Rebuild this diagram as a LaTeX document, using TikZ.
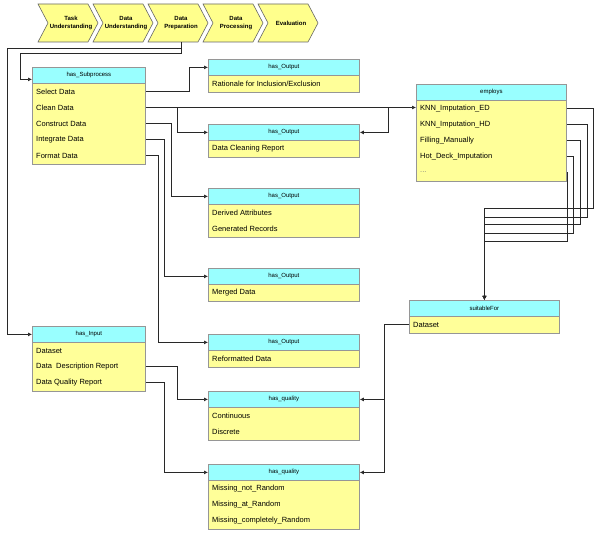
\documentclass[tikz,border=0pt]{standalone}
\usepackage{fontspec}
\setmainfont{Liberation Sans}
\usetikzlibrary{arrows.meta,calc}
\definecolor{hdr}{RGB}{153,255,255}
\definecolor{bod}{RGB}{255,255,153}
\definecolor{chevfill}{RGB}{255,255,140}
\definecolor{edge}{RGB}{150,150,150}
\definecolor{ln}{RGB}{40,40,40}
\tikzset{
 hdrbox/.style={draw=edge, fill=hdr, line width=0.8pt, minimum height=16, inner sep=0, font=\fontsize{6}{7}\selectfont},
 bodybox/.style={draw=edge, fill=bod, line width=0.8pt, inner sep=0},
 rowtxt/.style={anchor=west, inner sep=0, font=\fontsize{7.5}{9}\selectfont},
 chev/.style={draw=black!60, fill=chevfill, line width=0.6pt},
 chevtxt/.style={inner sep=0, minimum height=38, minimum width=40, align=center, font=\bfseries\fontsize{6}{7.5}\selectfont},
 conn/.style={draw=ln, line width=0.7pt},
 arr/.style={conn, -{Latex[length=4pt,width=4pt]}},
}
\newcommand{\clsbox}[7]{%
  \node[bodybox, minimum width=#4, minimum height=16*#7+1, anchor=north west] (#1-b) at (#2,#3+16) {};
  \node[hdrbox, minimum width=#4, anchor=north west] (#1-h) at (#2,#3) {#5};
  \foreach \rtxt [count=\k] in {#6} {\node[rowtxt] (#1-\k) at (#2+4,#3+24.5+16*\k-16) {\rtxt};}
}
\begin{document}
\begin{tikzpicture}[x=1pt,y=-1pt]
\fill[white] (0,0) rectangle (600,537);
\useasboundingbox (0,0) rectangle (600,537);
% chevrons
\foreach \x/\n/\txt in {38/c1/{Task\\Understanding}, 93/c2/{Data\\Understanding}, 148/c3/{Data\\Preparation}, 203/c4/{Data\\Processing}, 258/c5/{Evaluation}}{
  \draw[chev] (\x,4) -- (\x+50,4) -- (\x+60,23) -- (\x+50,42) -- (\x,42) -- (\x+10,23) -- cycle;
  \node[chevtxt] (\n) at (\x+33,23) {\txt};
}
% boxes
\clsbox{sub}{32}{67}{113}{has\_Subprocess}{Select Data, Clean Data, Construct Data, Integrate Data, Format Data}{5}
\clsbox{inp}{32}{326}{113}{has\_Input}{Dataset, Data\ \ Description Report, Data Quality Report}{3}
\clsbox{out1}{208}{59}{151}{has\_Output}{Rationale for Inclusion/Exclusion}{1}
\clsbox{out2}{208}{124}{151}{has\_Output}{Data Cleaning Report}{1}
\clsbox{out3}{208}{188}{151}{has\_Output}{Derived Attributes, Generated Records}{2}
\clsbox{out4}{208}{268}{151}{has\_Output}{Merged Data}{1}
\clsbox{out5}{208}{334}{151}{has\_Output}{Reformatted Data}{1}
\clsbox{hq1}{208}{391}{151}{has\_quality}{Continuous, Discrete}{2}
\clsbox{hq2}{208}{464}{151}{has\_quality}{Missing\_not\_Random, Missing\_at\_Random, Missing\_completely\_Random}{3}
\clsbox{emp}{416}{84}{150}{employs}{KNN\_Imputation\_ED, KNN\_Imputation\_HD, Filling\_Manually, Hot\_Deck\_Imputation, \textcolor{gray}{...}}{5}
\clsbox{suit}{409}{300}{150}{suitableFor}{Dataset}{1}
% connectors from Data Preparation
\draw[arr] (c3.south) -- ++(0,6) -| ($(inp-h.west)+(-25,0)$) -- (inp-h.west);
\draw[arr] (c3.south) -- ++(0,11) -| ($(sub-h.west)+(-12,4)$) -- ($(sub-h.west)+(0,4)$);
% subprocess rows
\draw[arr] (sub-1 -| sub-b.east) -- ++(44,0) |- (out1-h.west);
\draw[arr] (sub-2 -| sub-b.east) -- (sub-2 -| emp-b.west);
\draw[arr] ($(sub-2 -| sub-b.east)+(32,0)$) |- (out2-h.west);
\draw[arr] ($(sub-2 -| emp-b.west)+(-28,0)$) |- (out2-h.east);
\draw[arr] (sub-3 -| sub-b.east) -- ++(26,0) |- (out3-h.west);
\draw[arr] (sub-4 -| sub-b.east) -- ++(19,0) |- (out4-h.west);
\draw[arr] (sub-5 -| sub-b.east) -- ++(13,0) |- (out5-h.west);
% input rows
\draw[arr] (inp-2 -| inp-b.east) -- ++(32,0) |- (hq1-h.west);
\draw[arr] (inp-3 -| inp-b.east) -- ++(19,0) |- (hq2-h.west);
% suitableFor
\draw[arr] (suit-1 -| suit-b.west) -- ++(-25,0) |- (hq2-h.east);
\draw[arr] (suit-1 -| suit-b.west) -- ++(-25,0) |- (hq1-h.east);
% employs -> suitableFor
\draw[arr] (emp-1 -| emp-b.east) -| (593,208) -| (suit-h.north);
\draw[arr] (emp-2 -| emp-b.east) -| (587,217) -| (suit-h.north);
\draw[arr] (emp-3 -| emp-b.east) -| (580,224) -| (suit-h.north);
\draw[arr] (emp-4 -| emp-b.east) -| (573,233) -| (suit-h.north);
\draw[arr] (emp-5 -| emp-b.east) -| (567,241) -| (suit-h.north);
\end{tikzpicture}
\end{document}
